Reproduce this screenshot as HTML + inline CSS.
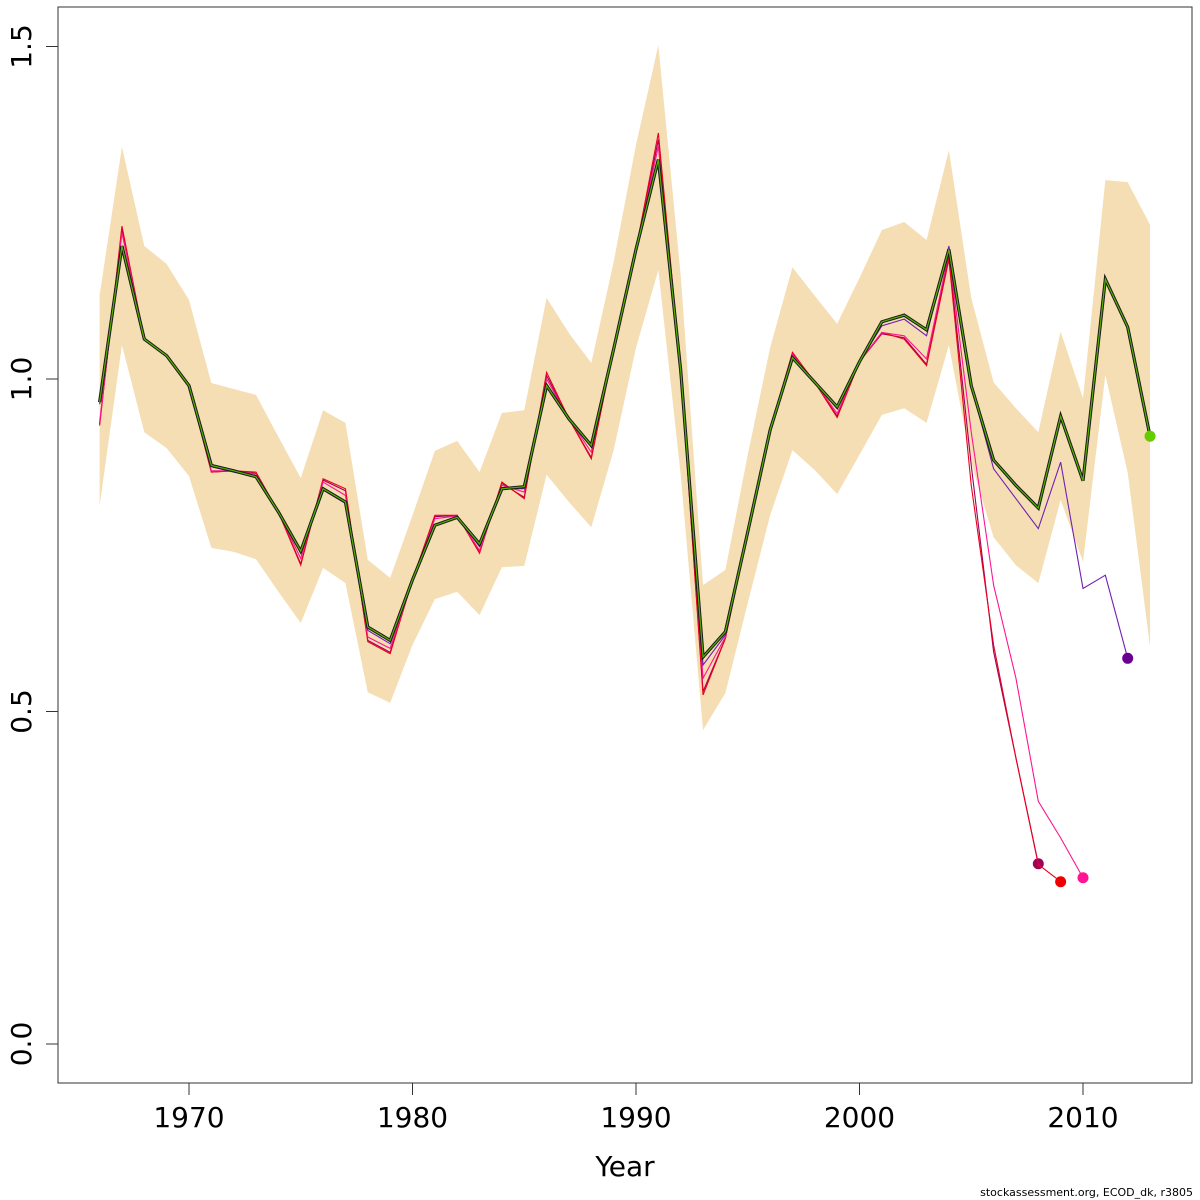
<!DOCTYPE html>
<html><head><meta charset="utf-8"><style>
body{margin:0;background:#fff}
svg{display:block;font-family:"DejaVu Sans","Liberation Sans",sans-serif}
</style></head><body>
<svg id="chart" width="1200" height="1200" viewBox="0 0 1200 1200">
<g id="band"></g>
<g id="lines"></g>
<rect x="58" y="7" width="1134" height="1076" fill="none" stroke="#333" stroke-width="1"/>
<g id="xaxis"></g>
<g id="yaxis"></g>
<text x="625" y="1176" font-size="28" text-anchor="middle">Year</text>
<text x="1193" y="1196" font-size="11" text-anchor="end">stockassessment.org, ECOD_dk, r3805</text>
</svg>
<script>
const years=[];for(let y=1966;y<=2013;y++)years.push(y);
const mainVals=[0.965,1.20,1.06,1.035,0.99,0.87,0.862,0.853,0.80,0.741,0.835,0.815,0.627,0.607,0.698,0.78,0.792,0.752,0.835,0.838,0.99,0.94,0.90,1.045,1.195,1.33,1.013,0.582,0.62,0.77,0.923,1.032,0.995,0.958,1.026,1.086,1.096,1.074,1.195,0.99,0.878,0.84,0.806,0.944,0.847,1.15,1.078,0.914];
const upperVals=[1.126,1.349,1.2,1.173,1.119,0.994,0.985,0.976,0.913,0.851,0.953,0.934,0.728,0.701,0.795,0.892,0.907,0.86,0.949,0.953,1.122,1.069,1.024,1.176,1.352,1.502,1.156,0.69,0.713,0.886,1.047,1.168,1.125,1.083,1.152,1.224,1.236,1.209,1.344,1.122,0.995,0.956,0.92,1.071,0.971,1.299,1.296,1.232];
const lowerVals=[0.809,1.051,0.92,0.896,0.854,0.746,0.74,0.729,0.68,0.633,0.716,0.693,0.529,0.513,0.6,0.669,0.68,0.645,0.717,0.719,0.856,0.815,0.777,0.893,1.047,1.164,0.856,0.472,0.528,0.663,0.795,0.893,0.863,0.827,0.886,0.946,0.956,0.934,1.051,0.874,0.762,0.72,0.693,0.818,0.725,1.006,0.859,0.597];
const purpleVals=[0.962,1.20,1.06,1.035,0.99,0.868,0.86,0.853,0.80,0.74,0.833,0.813,0.622,0.602,0.696,0.78,0.792,0.748,0.835,0.835,0.99,0.94,0.898,1.045,1.195,1.33,1.013,0.57,0.615,0.77,0.923,1.032,0.995,0.955,1.026,1.08,1.09,1.065,1.2,0.99,0.865,0.82,0.775,0.875,0.685,0.705,0.58];
const pinkVals=[0.935,1.22,1.06,1.035,0.99,0.862,0.862,0.857,0.80,0.73,0.845,0.825,0.612,0.595,0.696,0.79,0.794,0.742,0.84,0.83,1.0,0.94,0.89,1.045,1.195,1.35,1.013,0.55,0.612,0.77,0.923,1.037,0.995,0.948,1.026,1.07,1.065,1.03,1.19,0.92,0.69,0.55,0.365,0.31,0.25];
const redVals=[0.93,1.23,1.06,1.035,0.99,0.86,0.862,0.86,0.80,0.72,0.85,0.835,0.605,0.587,0.698,0.795,0.795,0.738,0.845,0.82,1.01,0.94,0.88,1.045,1.195,1.37,1.013,0.525,0.61,0.77,0.923,1.04,0.995,0.942,1.026,1.07,1.06,1.02,1.18,0.84,0.60,0.43,0.27,0.244];
const magentaVals=[0.932,1.225,1.06,1.035,0.99,0.86,0.862,0.858,0.80,0.722,0.848,0.832,0.607,0.589,0.698,0.793,0.795,0.74,0.843,0.822,1.005,0.94,0.882,1.045,1.195,1.36,1.013,0.53,0.61,0.77,0.923,1.038,0.995,0.944,1.026,1.068,1.062,1.022,1.185,0.87,0.59,0.43,0.271];
const xTicks=[1970,1980,1990,2000,2010];
const yTicks=[0.0,0.5,1.0,1.5];
const yTickLabels=["0.0","0.5","1.0","1.5"];
const X=yr=>189+(yr-1970)*22.35;
const Y=v=>1044-665*v;
const NS="http://www.w3.org/2000/svg";
function mk(tag,attrs,parent){const e=document.createElementNS(NS,tag);for(const k in attrs)e.setAttribute(k,attrs[k]);parent.appendChild(e);return e;}
const band=document.getElementById('band');
let d="M"+years.map((y,i)=>X(y)+","+Y(upperVals[i])).join("L");
for(let i=years.length-1;i>=0;i--)d+="L"+X(years[i])+","+Y(lowerVals[i]);
const bp=mk('path',{d:d+"Z",fill:"#f5deb3",stroke:"none"},band);


const lines=document.getElementById('lines');
function series(vals,color,w,name,dot){
 const pts=vals.map((v,i)=>X(years[i])+","+Y(v)).join(" ");
 const pl=mk('polyline',{points:pts,fill:"none",stroke:color,"stroke-width":w,"stroke-linejoin":"miter"},lines);
 
 
 if(dot){const n=vals.length-1;
  const c=mk('circle',{cx:X(years[n]),cy:Y(vals[n]),r:5.5,fill:dot},lines);
  
  }
}
series(magentaVals,"#a0005a",1.1,"peel-2008-line","#a0005a");
series(redVals,"#e8001c",1.1,"peel-2009-line","#ee0000");
series(pinkVals,"#ff1493",1.1,"peel-2010-line","#ff1493");
series(purpleVals,"#7020b0",1.1,"peel-2012-line","#6a0090");
series(mainVals,"#1a1a1a",3.2,"main-line-outline",null);
series(mainVals,"#55b000",1.2,"main-line","#66cc00");
const xa=document.getElementById('xaxis');
xTicks.forEach(t=>{
 const l=mk('line',{x1:X(t),x2:X(t),y1:1083,y2:1095,stroke:"#333"},xa);
 
 
 const tx=mk('text',{x:X(t),y:1127,"font-size":28,"text-anchor":"middle"},xa);tx.textContent=t;
 
 
});
const ya=document.getElementById('yaxis');
yTicks.forEach((t,i)=>{
 const l=mk('line',{x1:46,x2:58,y1:Y(t),y2:Y(t),stroke:"#333"},ya);
 
 
 const tx=mk('text',{x:0,y:0,"font-size":28,"text-anchor":"middle",transform:`translate(31,${Y(t)}) rotate(-90)`},ya);tx.textContent=yTickLabels[i];
 
 
});
</script>
</body></html>
